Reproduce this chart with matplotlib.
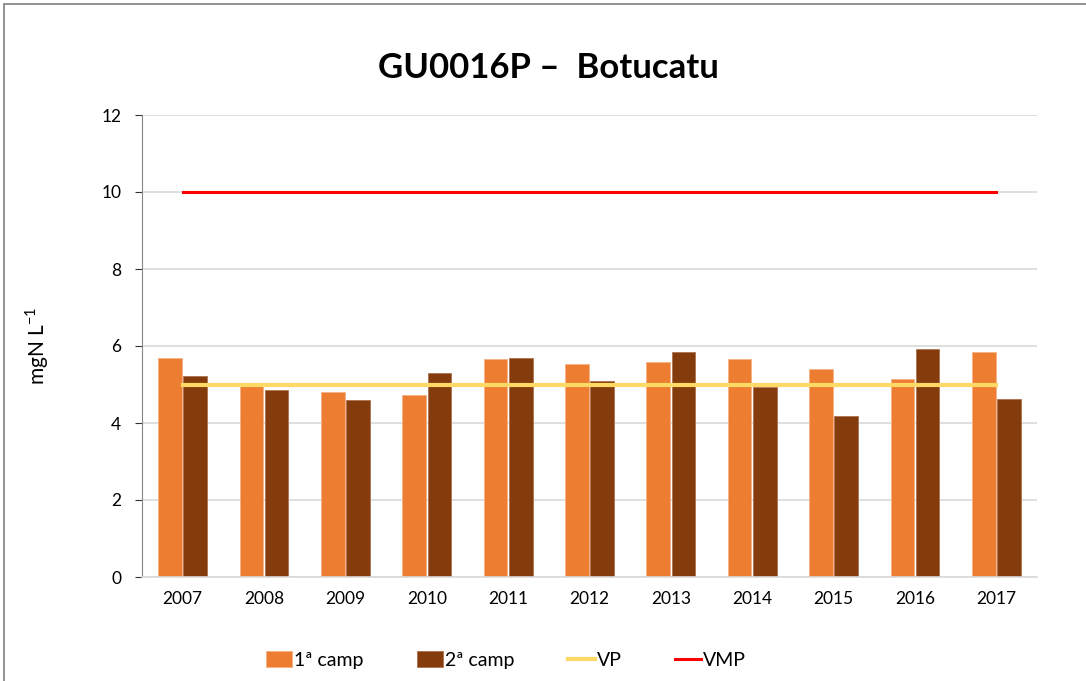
import matplotlib
matplotlib.use("Agg")
import matplotlib.pyplot as plt
import numpy as np
from matplotlib.patches import Rectangle

years = ["2007", "2008", "2009", "2010", "2011", "2012", "2013", "2014", "2015", "2016", "2017"]
camp1 = [5.70, 5.03, 4.81, 4.73, 5.66, 5.54, 5.58, 5.66, 5.40, 5.14, 5.84]
camp2 = [5.21, 4.87, 4.61, 5.30, 5.68, 5.08, 5.85, 4.93, 4.19, 5.91, 4.63]
vp = [5] * len(years)
vmp = [10] * len(years)
yticks = [0, 2, 4, 6, 8, 10, 12]

plt.rcParams['font.family'] = ['Lato', 'DejaVu Sans']

fig = plt.figure(figsize=(10.86, 6.81), dpi=100)
ax = fig.add_axes([142/1086, 1 - 577/681, (1037-142)/1086, (577-115)/681])

fig.patches.append(Rectangle((4/1086, -0.01), 1.02, 1 - 4/681 + 0.01, transform=fig.transFigure,
                             fill=False, edgecolor='#7f7f7f', linewidth=1.2))

x = np.arange(len(years))
w = 0.29
b1 = ax.bar(x - w/2 - 0.01, camp1, width=w, color='#ed7d31', edgecolor='#f4b183', linewidth=0.6, label='1ª camp', zorder=2)
b2 = ax.bar(x + w/2 + 0.01, camp2, width=w, color='#843c0c', edgecolor='#b07050', linewidth=0.6, label='2ª camp', zorder=2)
l1, = ax.plot(x, vp, color='#ffd966', linewidth=3, label='VP', zorder=3)
l2, = ax.plot(x, vmp, color='#ff0000', linewidth=2.2, label='VMP', zorder=3)

ax.set_xlim(-0.5, len(years) - 0.5)
ax.set_ylim(0, 12)
ax.set_yticks(yticks)
ax.set_xticks(x)
ax.set_xticklabels(years)
ax.grid(axis='y', color='#d9d9d9', linewidth=1.2, zorder=0)
ax.set_axisbelow(True)
for s in ['top', 'right']:
    ax.spines[s].set_visible(False)
ax.spines['left'].set_color('#868686')
ax.spines['bottom'].set_color('#d9d9d9')
ax.spines['bottom'].set_linewidth(1.2)
ax.tick_params(axis='y', length=5, color='#333333', labelsize=12.5, pad=10)
ax.tick_params(axis='x', length=0, labelsize=12.5, pad=10)
ax.set_ylabel('mgN L$^{\\mathregular{-1}}$', fontsize=15, labelpad=36)

fig.text(0.505, 1 - 68/681, 'GU0016P –  Botucatu', ha='center', va='center', fontsize=25, fontweight='bold')

fig.legend([b1, b2, l1, l2], ['1ª camp', '2ª camp', 'VP', 'VMP'],
           loc='center', bbox_to_anchor=(0.466, 1 - 660/681), ncol=4, frameon=False, fontsize=14,
           handlelength=1.35, handleheight=0.9, columnspacing=2.75, handletextpad=0.1)

fig.savefig('out.png', dpi=100)
